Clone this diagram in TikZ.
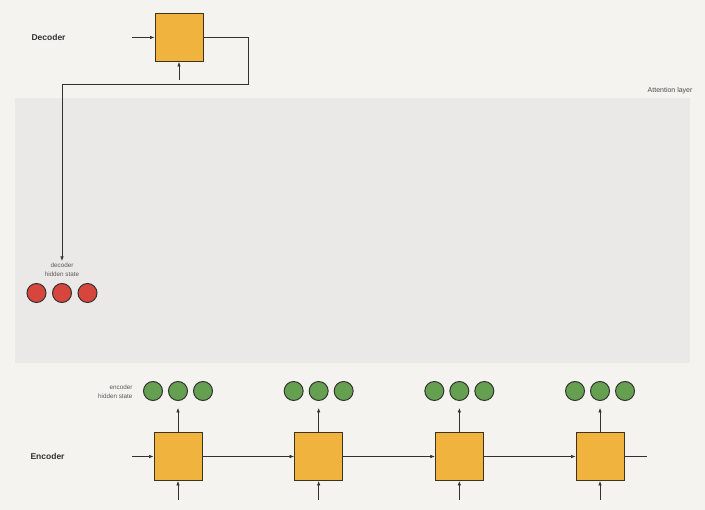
\documentclass[tikz,border=0pt]{standalone}
\usepackage{fontspec}
\setmainfont{Liberation Sans}
\usepackage{xcolor}
\usepackage{tikz}
\usetikzlibrary{arrows.meta,positioning}
\definecolor{paper}{RGB}{245,243,240}
\definecolor{bandgray}{RGB}{234,233,231}
\definecolor{cellorange}{RGB}{240,180,62}
\definecolor{cellline}{RGB}{60,52,35}
\definecolor{hidgreen}{RGB}{100,160,80}
\definecolor{hidred}{RGB}{215,70,60}
\definecolor{wiregray}{RGB}{50,50,50}

\begin{document}
\begin{tikzpicture}[x=1pt,y=-1pt,
  cell/.style={draw=cellline,line width=1pt,fill=cellorange,minimum size=48pt,inner sep=0pt},
  hid/.style={circle,draw=black!80,line width=1pt,minimum size=19pt,inner sep=0pt},
  wire/.style={draw=wiregray,line width=0.6pt},
  arr/.style={wire,-{Latex[length=4.5pt,width=3.5pt]}},
  tag/.style={font=\bfseries\fontsize{8.5}{10}\selectfont,text=black!80},
  small/.style={font=\fontsize{6.3}{8.7}\selectfont,text=black!65}]
  % page and attention band
  \fill[paper] (0,0) rectangle (705,510);
  \fill[bandgray] (15,98) rectangle (690,363);
  \node[small,anchor=east,font=\fontsize{7}{8}\selectfont,text=black!70] (attn) at (696,91) {Attention layer};

  % decoder
  \node[tag,anchor=west] (declab) at (28,37) {Decoder};
  \node[cell] (dec) at (179,37.5) {};
  \coordinate (decin) at (132,37.5);
  \coordinate (decbot) at (179,80);
  \coordinate (turn) at (248,84);
  \draw[arr] (decin) -- (dec.west);
  \draw[arr] (decbot) -- (dec.south);
  \node[small,align=center] (hidlab) at (62,270) {decoder\\hidden state};
  \draw[arr] (dec.east) -| (turn) -| ([yshift=-1pt]hidlab.north);
  \node[hid,fill=hidred] (d2) at (62,293) {};
  \node[hid,fill=hidred,left=5.5pt of d2] (d1) {};
  \node[hid,fill=hidred,right=5.5pt of d2] (d3) {};

  % encoder
  \node[tag,anchor=west] (enclab) at (27,456.5) {Encoder};
  \node[small,anchor=east,align=right] (enchid) at (136,391.5) {encoder\\hidden state};
  \foreach \i in {1,...,4} {
    \pgfmathsetmacro\cx{178+140.67*(\i-1)}
    \node[cell] (e\i) at (\cx,456.5) {};
    \node[hid,fill=hidgreen] (h\i) at (\cx,391) {};
    \node[hid,fill=hidgreen,left=5pt of h\i] (hl\i) {};
    \node[hid,fill=hidgreen,right=5pt of h\i] (hr\i) {};
    \coordinate (eb\i) at (\cx,500);
    \draw[arr,shorten >=7pt] (e\i.north) -- (h\i.south);
    \draw[arr] (eb\i) -- (e\i.south);
  }
  \coordinate (ein) at (132,456.5);
  \coordinate (eout) at (647,456.5);
  \draw[arr] (ein) -- (e1.west);
  \draw[arr] (e1.east) -- (e2.west);
  \draw[arr] (e2.east) -- (e3.west);
  \draw[arr] (e3.east) -- (e4.west);
  \draw[wire] (e4.east) -- (eout);
\end{tikzpicture}
\end{document}
